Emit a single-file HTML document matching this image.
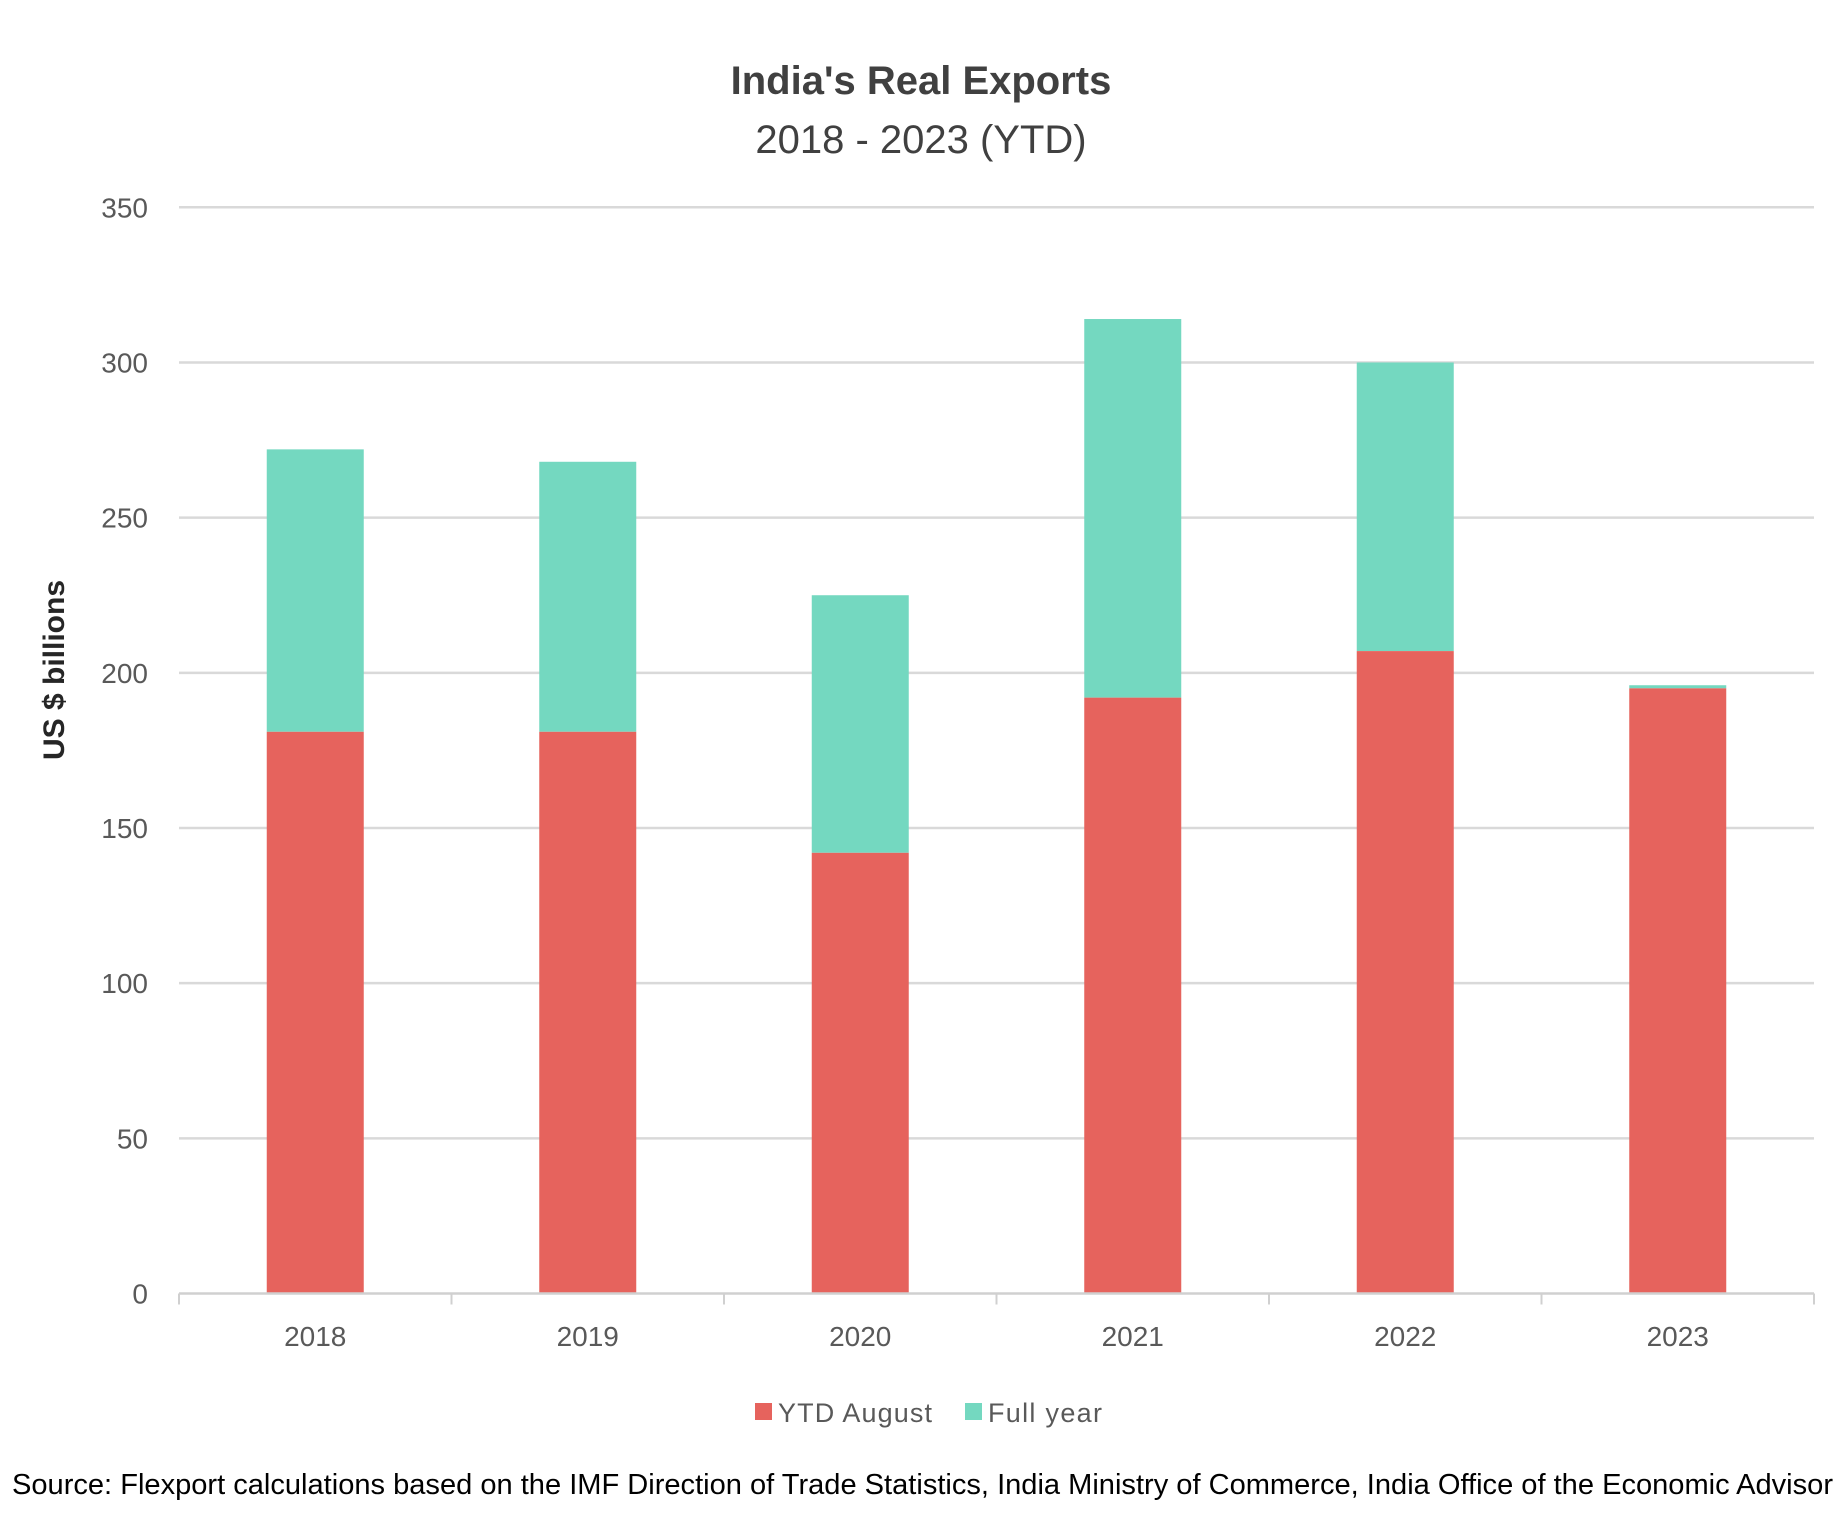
<!DOCTYPE html>
<html><head><meta charset="utf-8"><style>
html,body{margin:0;padding:0;background:#fff;width:1845px;height:1536px;overflow:hidden}
svg text{font-family:"Liberation Sans",sans-serif}
</style></head><body>
<svg id="chart" width="1845" height="1536" viewBox="0 0 1845 1536" xmlns="http://www.w3.org/2000/svg">
<text x="921" y="94" text-anchor="middle" font-size="40" font-weight="bold" fill="#404040">India's Real Exports</text>
<text x="921" y="153" text-anchor="middle" font-size="40" fill="#404040">2018 - 2023 (YTD)</text>
<g id="grid"></g>
<g id="bars"></g>
<g id="axes"></g>
<text transform="translate(64,670) rotate(-90)" text-anchor="middle" font-size="30" font-weight="bold" fill="#262626">US $ billions</text>
<g>
<rect x="755" y="1403" width="17" height="17" fill="#E6635D"/>
<text x="778" y="1422" font-size="27" fill="#595959" textLength="154">YTD August</text>
<rect x="965" y="1403" width="17" height="17" fill="#74D8C0"/>
<text x="988" y="1422" font-size="27" fill="#595959" textLength="114">Full year</text>
</g>
<text x="12" y="1494" font-size="29" fill="#000" textLength="1821" lengthAdjust="spacingAndGlyphs">Source: Flexport calculations based on the IMF Direction of Trade Statistics, India Ministry of Commerce, India Office of the Economic Advisor</text>
</svg>
<script>
const categories = ["2018","2019","2020","2021","2022","2023"];
const ytdValues = [181,181,142,192,207,195];
const fullValues = [272,268,225,314,300,196];
const yTicks = [0,50,100,150,200,250,300,350];

const NS="http://www.w3.org/2000/svg";
const L=179, R=1814, Y0=1293.5, Ytop=207.3, maxV=350;
const yS=v=>Y0-(v/maxV)*(Y0-Ytop);
const band=(R-L)/categories.length;
const xS=i=>L+band*(i+0.5);
const bw=97;
function mk(tag,attrs,parent){const e=document.createElementNS(NS,tag);for(const k in attrs)e.setAttribute(k,attrs[k]);parent.appendChild(e);return e;}
const grid=document.getElementById('grid'),bars=document.getElementById('bars'),axes=document.getElementById('axes');
yTicks.forEach(t=>{
  const y=yS(t);
  if(t>0){const g=mk('line',{x1:L,x2:R,y1:y,y2:y,stroke:'#d9d9d9','stroke-width':2.5},grid);
  
  }
  const tx=mk('text',{x:148,y:y+10,'text-anchor':'end','font-size':28,fill:'#595959'},axes);
  tx.textContent=t;
  
  
});
const ax=mk('line',{x1:L,x2:R,y1:Y0,y2:Y0,stroke:'#d0d0d0','stroke-width':2.5},axes);


for(let i=0;i<=categories.length;i++){
  const x=L+band*i;
  const tk=mk('line',{x1:x,x2:x,y1:Y0,y2:Y0+11,stroke:'#d0d0d0','stroke-width':2},axes);
  
  
}
categories.forEach((c,i)=>{
  const cx=xS(i);
  const f=mk('rect',{x:cx-bw/2,y:yS(fullValues[i]),width:bw,height:yS(ytdValues[i])-yS(fullValues[i]),fill:'#74D8C0'},bars);
  
  
  const r=mk('rect',{x:cx-bw/2,y:yS(ytdValues[i]),width:bw,height:Y0-yS(ytdValues[i]),fill:'#E6635D'},bars);
  
  
  const t=mk('text',{x:cx,y:1346,'text-anchor':'middle','font-size':28,fill:'#595959'},axes);
  t.textContent=c;
  
  
});
</script>
</body></html>
